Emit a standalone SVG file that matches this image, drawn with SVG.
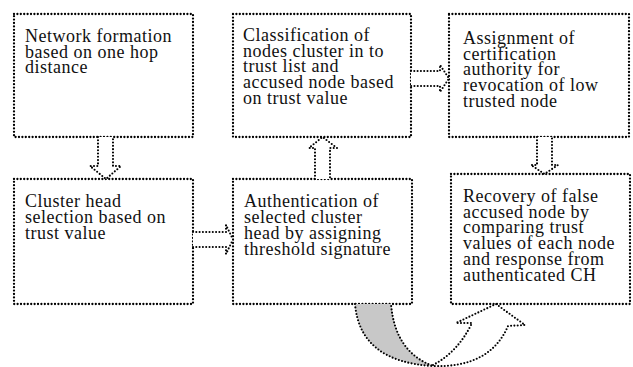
<svg xmlns="http://www.w3.org/2000/svg" width="633" height="367" viewBox="0 0 633 367">
<style>
.box{fill:#fff;stroke:#000;stroke-width:2.3;stroke-dasharray:0 3.4;stroke-linecap:round}
.arr{fill:#fff;stroke:#000;stroke-width:2.1;stroke-dasharray:0 3.3;stroke-linecap:round;stroke-linejoin:round}
.shade{fill:#c8c8c8;stroke:#000;stroke-width:2.1;stroke-dasharray:0 3.3;stroke-linecap:round}
text{font-family:"Liberation Serif","Times New Roman",serif;font-size:18px;letter-spacing:0.5px;fill:#111}
</style>
<rect width="633" height="367" fill="#fff"/>
<g id="n1">
<rect class="box" x="14" y="14" width="179" height="123"/>
<text x="25" y="42">Network formation</text>
<text x="25" y="57.5">based on one hop</text>
<text x="25" y="73">distance</text>
</g>
<g id="n2">
<rect class="box" x="233" y="14" width="178" height="123"/>
<text x="243" y="41">Classification of</text>
<text x="243" y="56.7">nodes cluster in to</text>
<text x="243" y="72.4">trust list and</text>
<text x="243" y="88.1">accused node based</text>
<text x="243" y="103.8">on trust value</text>
</g>
<g id="n3">
<rect class="box" x="449" y="14" width="180" height="123"/>
<text x="463" y="44">Assignment of</text>
<text x="463" y="59.7">certification</text>
<text x="463" y="75.4">authority for</text>
<text x="463" y="91.1">revocation of low</text>
<text x="463" y="106.8">trusted node</text>
</g>
<g id="n4">
<rect class="box" x="14" y="179" width="179" height="125"/>
<text x="25" y="207">Cluster head</text>
<text x="25" y="223">selection based on</text>
<text x="25" y="239">trust value</text>
</g>
<g id="n5">
<rect class="box" x="233" y="179" width="179" height="125"/>
<text x="244" y="207">Authentication of</text>
<text x="244" y="223">selected cluster</text>
<text x="244" y="239">head by assigning</text>
<text x="244" y="255">threshold signature</text>
</g>
<g id="n6">
<rect class="box" x="451" y="174" width="179" height="130"/>
<text x="463" y="202">Recovery of false</text>
<text x="463" y="217.7">accused node by</text>
<text x="463" y="233.4">comparing trust</text>
<text x="463" y="249.1">values of each node</text>
<text x="463" y="264.8">and response from</text>
<text x="463" y="280.5">authenticated CH</text>
</g>
<g id="connectors">
<path class="arr" d="M98,137 L98,166 L90,166 L106,179 L121,166 L113,166 L113,137"/>
<path class="arr" d="M315,179 L315,148 L309,148 L322.5,137 L337,148 L330,148 L330,179"/>
<path class="arr" d="M411,71 L440,71 L440,65 L449,78.5 L440,92 L440,86 L411,86"/>
<path class="arr" d="M193,232 L226,232 L226,225 L233,239.5 L226,254 L226,247 L193,247"/>
<path class="arr" d="M537,137 L537,165 L531,165 L544.5,174 L558,165 L552,165 L552,137"/>
<path class="shade" d="M355,304 Q360,362 433,366 Q395,352 391,304"/>
<path class="arr" d="M433,365 Q458,352 472,323 L456,323 L496,304 L525,325 L508,326 Q490,368 433,366"/>
</g>
</svg>
